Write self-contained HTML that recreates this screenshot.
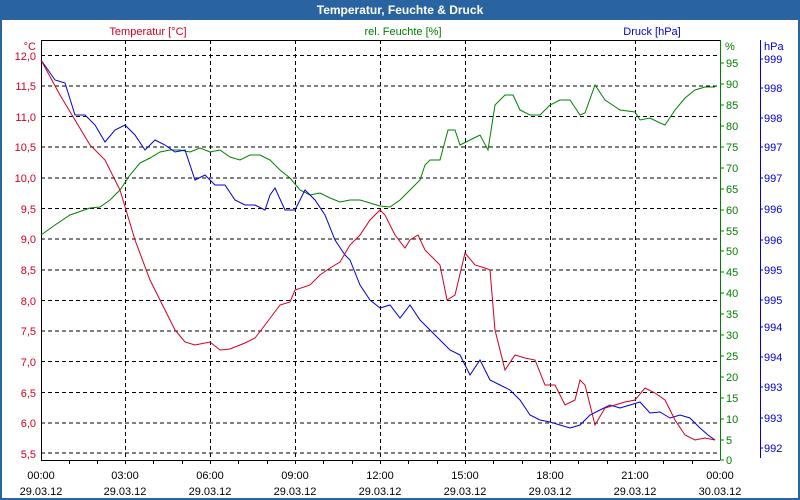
<!DOCTYPE html>
<html><head><meta charset="utf-8"><style>
body{margin:0;width:800px;height:500px;overflow:hidden;background:#fff}
svg{display:block;font-family:"Liberation Sans","DejaVu Sans",sans-serif}
</style></head><body>
<svg width="800" height="500" xmlns="http://www.w3.org/2000/svg">
<rect x="0" y="0" width="800" height="500" fill="#2a64a0"/>
<rect x="2" y="20" width="796" height="478" fill="#fff"/>
<text x="400" y="14" fill="#fff" font-size="12" font-weight="bold" text-anchor="middle">Temperatur, Feuchte &amp; Druck</text>
<text x="148" y="35" fill="#d00020" font-size="11" text-anchor="middle">Temperatur [°C]</text>
<text x="403" y="35" fill="#008000" font-size="11" text-anchor="middle">rel. Feuchte [%]</text>
<text x="652" y="35" fill="#0000d0" font-size="11" text-anchor="middle">Druck [hPa]</text>
<g stroke="#000" stroke-dasharray="4,3" stroke-width="1">
<line x1="41" x2="720" y1="55.5" y2="55.5"/><line x1="41" x2="720" y1="86" y2="86"/><line x1="41" x2="720" y1="116.5" y2="116.5"/><line x1="41" x2="720" y1="147" y2="147"/><line x1="41" x2="720" y1="178" y2="178"/><line x1="41" x2="720" y1="208.5" y2="208.5"/><line x1="41" x2="720" y1="239" y2="239"/><line x1="41" x2="720" y1="270" y2="270"/><line x1="41" x2="720" y1="300.5" y2="300.5"/><line x1="41" x2="720" y1="331" y2="331"/><line x1="41" x2="720" y1="361.5" y2="361.5"/><line x1="41" x2="720" y1="392.5" y2="392.5"/><line x1="41" x2="720" y1="423" y2="423"/><line x1="41" x2="720" y1="453" y2="453"/>
<line x1="125.5" x2="125.5" y1="40" y2="460"/><line x1="210.5" x2="210.5" y1="40" y2="460"/><line x1="295.5" x2="295.5" y1="40" y2="460"/><line x1="380.5" x2="380.5" y1="40" y2="460"/><line x1="465.5" x2="465.5" y1="40" y2="460"/><line x1="550.5" x2="550.5" y1="40" y2="460"/><line x1="635.5" x2="635.5" y1="40" y2="460"/>
</g>
<path d="M41.5 40.5H720.5M41.5 40V460.5H720" stroke="#000" fill="none"/>
<g stroke="#000"><path d="M69.5 460v4M97.5 460v4M125.5 460v4M153.5 460v4M182.5 460v4M210.5 460v4M238.5 460v4M267.5 460v4M295.5 460v4M323.5 460v4M352.5 460v4M380.5 460v4M408.5 460v4M437.5 460v4M465.5 460v4M493.5 460v4M522.5 460v4M550.5 460v4M578.5 460v4M607.5 460v4M635.5 460v4M663.5 460v4M692.5 460v4"/></g>
<line x1="720.5" x2="720.5" y1="40" y2="460" stroke="#008000"/>
<line x1="760.5" x2="760.5" y1="40" y2="458" stroke="#0000d0"/>
<g fill="#d00020" font-size="11" text-anchor="end">
<text x="36" y="50">°C</text>
<text x="36" y="60">12,0</text><text x="36" y="90">11,5</text><text x="36" y="121">11,0</text><text x="36" y="151">10,5</text><text x="36" y="182">10,0</text><text x="36" y="213">9,5</text><text x="36" y="243">9,0</text><text x="36" y="274">8,5</text><text x="36" y="305">8,0</text><text x="36" y="335">7,5</text><text x="36" y="366">7,0</text><text x="36" y="397">6,5</text><text x="36" y="427">6,0</text><text x="36" y="458">5,5</text>
</g>
<g fill="#008000" font-size="11"><g stroke="#008000"><path d="M720 63h4M720 84h4M720 105h4M720 126h4M720 147h4M720 168h4M720 189h4M720 210h4M720 231h4M720 251h4M720 272h4M720 293h4M720 314h4M720 335h4M720 356h4M720 377h4M720 398h4M720 419h4M720 440h4M720 460h4"/></g>
<text x="725" y="50">%</text>
<text x="726" y="67">95</text><text x="726" y="88">90</text><text x="726" y="109">85</text><text x="726" y="130">80</text><text x="726" y="151">75</text><text x="726" y="172">70</text><text x="726" y="193">65</text><text x="726" y="214">60</text><text x="726" y="235">55</text><text x="726" y="255">50</text><text x="726" y="276">45</text><text x="726" y="297">40</text><text x="726" y="318">35</text><text x="726" y="339">30</text><text x="726" y="360">25</text><text x="726" y="381">20</text><text x="726" y="402">15</text><text x="726" y="423">10</text><text x="726" y="444">5</text><text x="726" y="464">0</text></g>
<g fill="#0000d0" font-size="11"><g stroke="#0000d0"><path d="M760 59h3M760 88h3M760 118h3M760 147h3M760 178h3M760 209h3M760 240h3M760 270h3M760 300h3M760 327h3M760 357h3M760 387h3M760 418h3M760 448h3"/></g>
<text x="764" y="50">hPa</text>
<text x="764" y="63">999</text><text x="764" y="92">998</text><text x="764" y="122">998</text><text x="764" y="151">997</text><text x="764" y="182">997</text><text x="764" y="213">996</text><text x="764" y="244">996</text><text x="764" y="274">995</text><text x="764" y="304">995</text><text x="764" y="331">994</text><text x="764" y="361">994</text><text x="764" y="391">993</text><text x="764" y="422">993</text><text x="764" y="452">992</text></g>
<g font-size="11" fill="#000" text-anchor="middle">
<text x="41" y="479">00:00</text><text x="41" y="495">29.03.12</text>
<text x="125" y="479">03:00</text><text x="125" y="495">29.03.12</text>
<text x="210" y="479">06:00</text><text x="210" y="495">29.03.12</text>
<text x="295" y="479">09:00</text><text x="295" y="495">29.03.12</text>
<text x="380" y="479">12:00</text><text x="380" y="495">29.03.12</text>
<text x="465" y="479">15:00</text><text x="465" y="495">29.03.12</text>
<text x="550" y="479">18:00</text><text x="550" y="495">29.03.12</text>
<text x="635" y="479">21:00</text><text x="635" y="495">29.03.12</text>
<text x="720" y="479">00:00</text><text x="720" y="495">30.03.12</text>
</g>
<polyline fill="none" stroke="#008000" points="41,235 55,225 70,215 90,208 100,207 110,200 120,190 130,175 140,163 150,158 160,152 170,150 180,150 190,152 200,148 210,152 220,150 230,157 240,160 250,155 260,155 270,160 280,170 290,178 300,190 310,195 320,193 330,198 340,202 350,200 360,200 370,203 380,206 390,207 400,200 410,190 420,180 425,165 430,160 440,160 448,130 455,130 460,145 470,140 480,135 488,150 495,105 505,95 513,95 520,110 530,115 540,115 550,105 560,100 570,100 580,115 585,113 595,85 605,100 620,110 635,112 640,120 650,118 660,123 665,125 675,110 685,98 695,90 705,87 715,87"/>
<polyline fill="none" stroke="#0000d0" points="41,60 55,80 65,83 75,115 85,115 95,125 105,142 115,130 125,125 135,135 145,150 155,140 165,145 175,152 185,150 195,180 205,175 215,185 225,185 235,200 245,205 255,205 265,210 270,195 275,188 285,210 295,210 305,190 315,200 325,215 335,240 345,255 350,260 360,285 370,300 380,308 390,305 400,318 410,305 420,320 430,330 440,340 450,350 460,355 470,375 480,360 490,380 500,385 510,390 520,400 530,415 540,420 550,422 560,425 570,428 580,425 590,415 600,410 610,405 620,408 630,405 640,402 650,413 660,412 670,418 680,415 690,418 700,428 708,435 715,440"/>
<polyline fill="none" stroke="#d00020" points="41,60 60,95 75,120 90,145 105,160 120,190 135,240 150,280 165,310 175,330 185,342 195,345 210,342 220,350 230,349 245,343 255,338 265,325 280,305 290,302 295,290 310,285 320,275 330,268 340,262 350,245 360,235 370,220 380,210 385,215 395,235 405,248 410,240 418,235 425,250 440,265 447,300 455,295 465,253 475,265 485,268 490,270 495,330 505,370 515,355 525,358 535,360 545,385 555,385 565,405 575,400 580,380 585,385 595,425 605,408 615,405 625,402 635,400 645,388 655,393 665,400 675,420 685,435 695,440 705,438 715,440"/>
</svg>
</body></html>
